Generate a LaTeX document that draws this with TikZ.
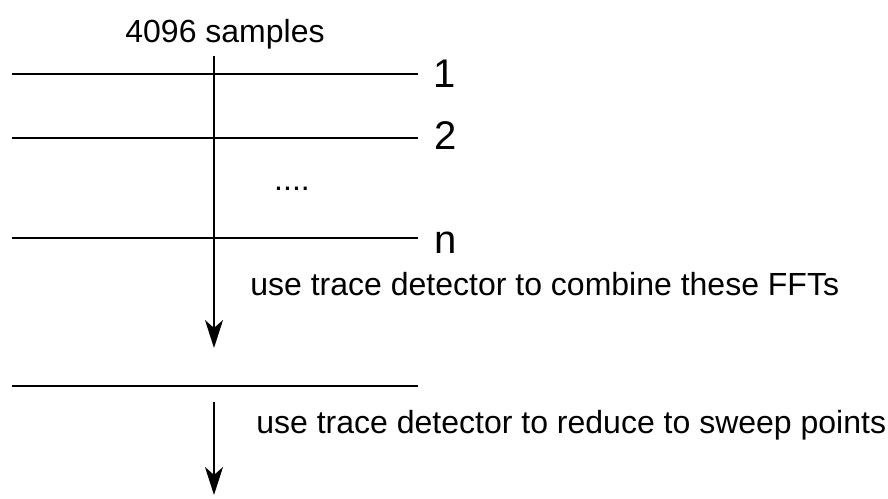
\documentclass[tikz,border=0pt]{standalone}
\usepackage{fontspec}
\setmainfont{Liberation Sans}
\usetikzlibrary{arrows.meta,positioning}
\begin{document}
\begin{tikzpicture}[x=0.5pt,y=-0.5pt,
        lbl/.style={font=\fontsize{16}{19}\selectfont,inner sep=0pt},
        idx/.style={font=\fontsize{20}{24}\selectfont,inner sep=0pt,anchor=west},
        fftline/.style={line width=1pt},
        flow/.style={line width=1pt,-{Stealth[length=14pt,width=9pt,inset=4pt]}}]
            \useasboundingbox (0,0) rectangle (888,498);

            \coordinate (L1a) at (12,74); \coordinate (L1b) at (418,74);
            \coordinate (L2a) at (12,138); \coordinate (L2b) at (418,138);
            \coordinate (Lna) at (12,238); \coordinate (Lnb) at (418,238);
            \coordinate (Lsa) at (12,386); \coordinate (Lsb) at (418,386);

            \node[lbl,anchor=base] (S) at (225,42) {4096 samples};
            \node[idx] (N1) at (433,74) {1};
            \node[idx] (N2) at (434,136) {2};
            \node[lbl,anchor=base] (Dots) at (292,190) {....};
            \node[idx] (Nn) at (434,243) {n};
            \node[lbl,anchor=base west] (Comb) at (250,295) {use trace detector to combine these FFTs};
            \node[lbl,anchor=base west] (Red) at (256,433) {use trace detector to reduce to sweep points};

            \coordinate (Top) at (214,56); \coordinate (Mid) at (214,348);
            \coordinate (Bot0) at (214,402); \coordinate (Bot) at (214,495);

            \draw[fftline] (L1a) to (L1b); \draw[fftline] (L2a) to (L2b);
            \draw[fftline] (Lna) to (Lnb); \draw[fftline] (Lsa) to (Lsb);
            \draw[flow] (Top) to (Mid); \draw[flow] (Bot0) to (Bot);
        \end{tikzpicture}
\end{document}
